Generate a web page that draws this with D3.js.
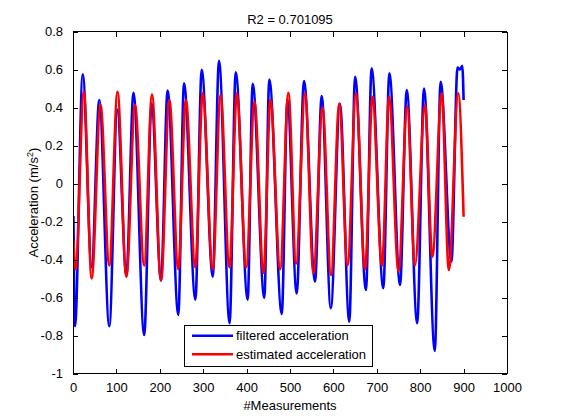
<!DOCTYPE html>
<html><head><meta charset="utf-8">
<script src="https://cdn.jsdelivr.net/npm/d3@7"></script>
<style>
html,body{margin:0;padding:0;background:#fff;}
text{font-family:"Liberation Sans",Arial,Helvetica,sans-serif;}
</style></head>
<body><svg id="c" width="561" height="420"></svg>
<script>
// Extremes of the filtered acceleration (measurement index, value)
const blueX = [1, 4.6, 22.4, 43, 60.6, 83.6, 102, 123, 139.4, 164, 181, 202.8, 218, 242.6, 255.8, 282, 296.5, 322, 336.4, 360.8, 374.9, 402.5, 414, 440.8, 452.3, 481, 494, 515.4, 532.3, 557.6, 573, 594, 615, 636.6, 650, 675, 688, 715, 729, 753.5, 769, 793, 808.8, 833.6, 847, 872, 886, 891.5, 897, 900];
const blueY = [-0.17, -0.75, 0.575, -0.44, 0.44, -0.75, 0.39, -0.48, 0.478, -0.796, 0.42, -0.51, 0.49, -0.69, 0.528, -0.61, 0.598, -0.489, 0.646, -0.734, 0.585, -0.61, 0.525, -0.60, 0.547, -0.685, 0.44, -0.577, 0.54, -0.515, 0.46, -0.655, 0.42, -0.726, 0.562, -0.559, 0.606, -0.55, 0.58, -0.533, 0.492, -0.734, 0.50, -0.88, 0.536, -0.41, 0.61, 0.60, 0.62, 0.44];
// Extremes of the estimated acceleration
const redX = [1, 5.8, 25, 43, 63.4, 83.6, 102.5, 123, 142.9, 164, 182, 202.8, 222, 242.6, 260, 281.8, 298.8, 322, 340, 360.6, 377.5, 399, 418.2, 439, 455, 477.3, 496.3, 514, 534.7, 554, 575, 594.5, 613.5, 632.6, 652, 673, 690, 712, 728.4, 750, 770, 788, 811, 828, 849.5, 866, 887.6, 900];
const redY = [-0.3, -0.45, 0.483, -0.498, 0.414, -0.43, 0.483, -0.49, 0.414, -0.43, 0.468, -0.507, 0.44, -0.45, 0.44, -0.44, 0.475, -0.45, 0.466, -0.44, 0.475, -0.44, 0.431, -0.47, 0.44, -0.45, 0.478, -0.42, 0.475, -0.47, 0.40, -0.48, 0.42, -0.43, 0.475, -0.45, 0.457, -0.43, 0.457, -0.46, 0.405, -0.43, 0.414, -0.384, 0.475, -0.454, 0.475, -0.174];

const xTicks = [0, 100, 200, 300, 400, 500, 600, 700, 800, 900, 1000];
const yTicks = [-1, -0.8, -0.6, -0.4, -0.2, 0, 0.2, 0.4, 0.6, 0.8];
const yTickLabels = ["-1", "-0.8", "-0.6", "-0.4", "-0.2", "0", "0.2", "0.4", "0.6", "0.8"];
const seriesNames = ["filtered acceleration", "estimated acceleration"];
const seriesColors = ["#0000ff", "#ff0000"];
const titleText = "R2 = 0.701095";
const xLabel = "#Measurements";

const L = 73, R = 507, T = 31.5, B = 373.8;
const svg = d3.select("#c");
const x = d3.scaleLinear().domain([0, 1000]).range([L, R]);
const y = d3.scaleLinear().domain([-1, 0.8]).range([B, T]);
const fs = 13;

const clip = svg.append("clipPath").attr("id","pc").append("rect")
  .attr("x", L).attr("y", T).attr("width", R-L).attr("height", B-T);

const line = d3.line().x(d => x(d[0])).y(d => y(d[1])).curve(d3.curveMonotoneX);
const blue = blueX.map((v,i) => [v, blueY[i]]);
const red = redX.map((v,i) => [v, redY[i]]);
const g = svg.append("g").attr("clip-path","url(#pc)");
g.append("path").attr("d", line(blue)).attr("fill","none").attr("stroke", seriesColors[0]).attr("stroke-width", 2.6).attr("stroke-linejoin","round");
g.append("path").attr("d", line(red)).attr("fill","none").attr("stroke", seriesColors[1]).attr("stroke-width", 2.6).attr("stroke-linejoin","round");

// axes (ticks inward, box)
const tl = 5;
const xb = svg.append("g").attr("transform", `translate(0,${B})`)
  .call(d3.axisBottom(x).tickValues(xTicks).tickSize(-tl).tickPadding(9).tickFormat(d3.format("d")));
const xt = svg.append("g").attr("transform", `translate(0,${T})`)
  .call(d3.axisTop(x).tickValues(xTicks).tickSize(-tl).tickFormat(""));
const yl = svg.append("g").attr("transform", `translate(${L},0)`)
  .call(d3.axisLeft(y).tickValues(yTicks).tickSize(-tl).tickPadding(10).tickFormat((d,i) => yTickLabels[i]));
const yr = svg.append("g").attr("transform", `translate(${R},0)`)
  .call(d3.axisRight(y).tickValues(yTicks).tickSize(-tl).tickFormat(""));
svg.selectAll(".domain").attr("stroke","#000").attr("stroke-width",1).attr("shape-rendering","crispEdges");
svg.selectAll(".tick line").attr("stroke","#000").attr("shape-rendering","crispEdges");
svg.selectAll(".tick text").attr("font-size", fs).attr("fill","#000").attr("font-family",'"Liberation Sans",Arial,sans-serif');
xb.selectAll(".domain").attr("d", `M${L},0H${R}`);
xt.selectAll(".domain").attr("d", `M${L},0H${R}`);
yl.selectAll(".domain").attr("d", `M0,${B}V${T}`);
yr.selectAll(".domain").attr("d", `M0,${B}V${T}`);

// title and labels
svg.append("text").attr("x", (L+R)/2).attr("y", 24).attr("text-anchor","middle").attr("font-size", fs).text(titleText);
svg.append("text").attr("x", (L+R)/2).attr("y", 410).attr("text-anchor","middle").attr("font-size", fs).text(xLabel);
const yt = svg.append("text").attr("transform", `translate(38,${(T+B)/2}) rotate(-90)`).attr("text-anchor","middle").attr("font-size", fs);
yt.append("tspan").text("Acceleration (m/s");
yt.append("tspan").attr("font-size", 9).attr("dy", -5).text("2");
yt.append("tspan").attr("dy", 5).text(")");

// legend
const lg = svg.append("g");
lg.append("rect").attr("x", 184.5).attr("y", 325.5).attr("width", 188).attr("height", 41).attr("fill","#fff").attr("stroke","#000").attr("stroke-width",1);
seriesNames.forEach((n,i) => {
  const yy = 335.7 + i*18.6;
  lg.append("line").attr("x1",192).attr("x2",233).attr("y1",yy).attr("y2",yy).attr("stroke",seriesColors[i]).attr("stroke-width",2.6);
  lg.append("text").attr("x",236).attr("y",yy+4.5).attr("font-size",fs).text(n);
});
</script></body></html>
